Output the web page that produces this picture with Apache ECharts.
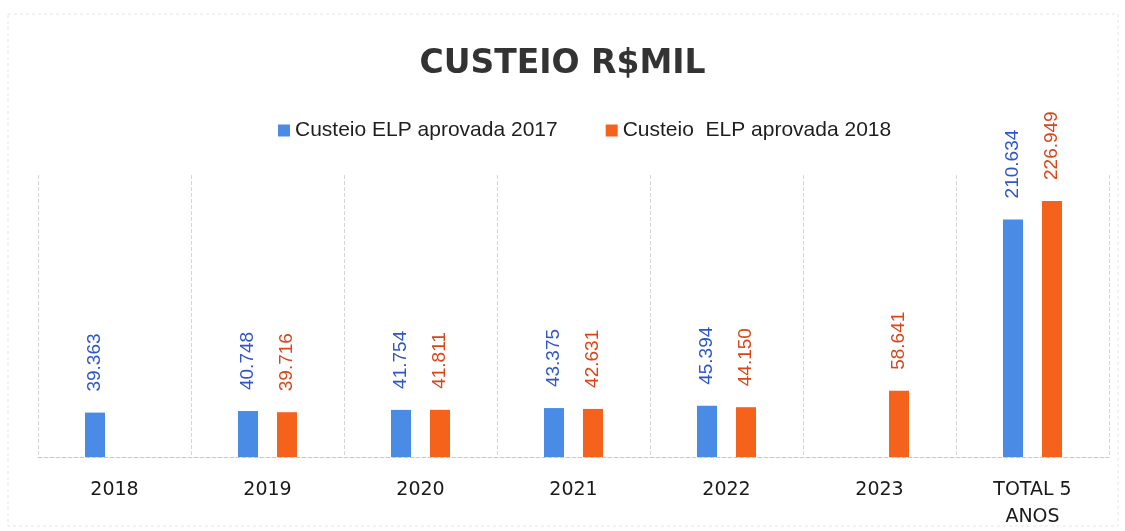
<!DOCTYPE html>
<html>
<head>
<meta charset="utf-8">
<script src="https://cdn.jsdelivr.net/npm/echarts@6/dist/echarts.min.js"></script>
<style>
  html, body { margin: 0; padding: 0; background: #fff; }
  #main { width: 1125px; height: 531px; }
</style>
</head>
<body>
<div id="main"></div>
<script>
// dados (R$ mil)
var categories = ['2018', '2019', '2020', '2021', '2022', '2023', 'TOTAL 5\nANOS'];
var custeio2017 = [39.363, 40.748, 41.754, 43.375, 45.394, null, 210.634];
var custeio2018 = [null, 39.716, 41.811, 42.631, 44.150, 58.641, 226.949];
var seriesNames = ['Custeio ELP aprovada 2017', 'Custeio  ELP aprovada 2018'];

var myChart = echarts.init(document.getElementById('main'));

function valueLabel(color) {
  return {
    show: true,
    position: 'top',
    rotate: 90,
    align: 'left',
    verticalAlign: 'middle',
    distance: 21,
    color: color,
    fontFamily: 'Liberation Sans',
    fontSize: 19,
    formatter: function (p) { return p.value.toFixed(3); }
  };
}

var option = {
  backgroundColor: '#fff',
  animation: false,
  title: {
    text: 'CUSTEIO R$MIL',
    left: 'center',
    top: 43,
    textStyle: {
      fontFamily: 'DejaVu Sans',
      fontWeight: 'bold',
      fontSize: 33,
      color: '#333'
    }
  },
  legend: {
    data: seriesNames,
    top: 115,
    left: 273,
    itemWidth: 12,
    itemHeight: 12,
    itemGap: 48,
    icon: 'rect',
    textStyle: {
      fontFamily: 'Liberation Sans',
      fontSize: 21,
      color: '#1e1e1e'
    }
  },
  grid: {
    left: 38,
    right: 16,
    top: 175,
    bottom: 71
  },
  xAxis: {
    type: 'category',
    data: categories,
    axisLine: { lineStyle: { color: '#c8c8c8', type: 'dashed' } },
    axisTick: { show: false },
    splitLine: { show: true, lineStyle: { color: '#d6d6d6', type: 'dashed' } },
    axisLabel: {
      margin: 20,
      fontFamily: 'DejaVu Sans',
      fontSize: 19,
      lineHeight: 27,
      color: '#1a1a1a'
    }
  },
  yAxis: {
    type: 'value',
    min: 0,
    max: 250,
    show: false
  },
  series: [{
    name: seriesNames[0],
    type: 'bar',
    data: custeio2017,
    barWidth: 20,
    barGap: '95%',
    itemStyle: { color: '#4a8be6' },
    label: valueLabel('#2f56c6')
  }, {
    name: seriesNames[1],
    type: 'bar',
    data: custeio2018,
    barWidth: 20,
    itemStyle: { color: '#f4621c' },
    label: valueLabel('#d8461a')
  }],
  graphic: [{
    type: 'rect',
    shape: { x: 8, y: 14, width: 1110, height: 512 },
    style: { fill: 'none', stroke: '#e4e4e4', lineWidth: 1, lineDash: [3, 3] },
    silent: true
  }]
};

myChart.setOption(option);
</script>
</body>
</html>
